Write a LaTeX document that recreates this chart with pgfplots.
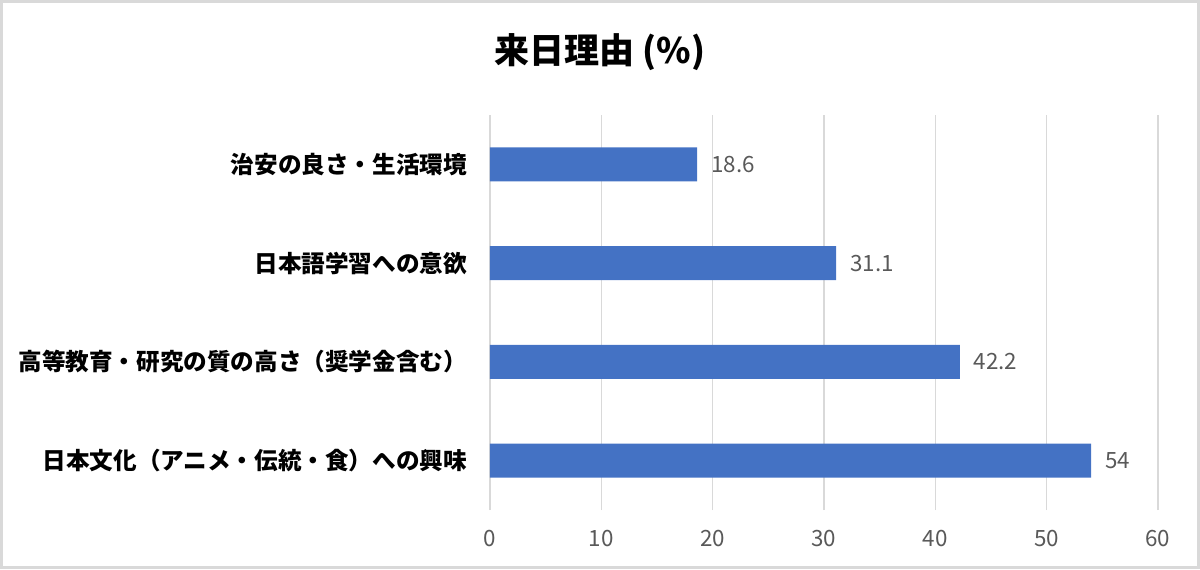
\documentclass[border=0pt]{standalone}
\usepackage{pgfplots}
\pgfplotsset{compat=1.18}
\usepackage{fontspec}
\setmainfont{Noto Sans CJK JP}
\definecolor{barblue}{HTML}{4472C4}
\definecolor{labelgray}{HTML}{595959}
\definecolor{gridgray}{HTML}{D9D9D9}
\begin{document}
\begin{tikzpicture}
\path[use as bounding box] (0,0) rectangle (600pt,284.5pt);
\draw[gridgray, line width=1.5pt] (0.75pt,0.75pt) rectangle (599.25pt,283.75pt);
\begin{axis}[
  at={(245pt,29.5pt)}, anchor=south west,
  scale only axis, width=334pt, height=197.5pt,
  xbar, bar width=17pt,
  xmin=0, xmax=60, ymin=-0.5, ymax=3.5,
  xtick={0,10,...,60},
  ytick={0,1,2,3},
  yticklabels={日本文化（アニメ・伝統・食）への興味, 高等教育・研究の質の高さ（奨学金含む）, 日本語学習への意欲, 治安の良さ・生活環境},
  xmajorgrids, grid style={draw=gridgray, line width=0.8pt},
  axis line style={draw=none},
  major tick length=0pt, tick style={draw=none},
  /pgf/number format/assume math mode=true,
  xticklabel style={anchor=base, yshift=-18pt, font=\fontsize{11.2}{13}\selectfont, text=labelgray},
  yticklabel style={anchor=east, xshift=-8pt, font=\bfseries\fontsize{11.8}{14}\selectfont, text=black},
  nodes near coords,
  nodes near coords style={anchor=west, xshift=3.5pt, font=\fontsize{11.2}{13}\selectfont, text=labelgray},
]
\addplot[fill=barblue, draw=none] coordinates {(54,0) (42.2,1) (31.1,2) (18.6,3)};
\end{axis}
\node[font=\bfseries\fontsize{17.5}{21}\selectfont] at (300pt,258.5pt) {来日理由 (\%)};
\end{tikzpicture}
\end{document}
